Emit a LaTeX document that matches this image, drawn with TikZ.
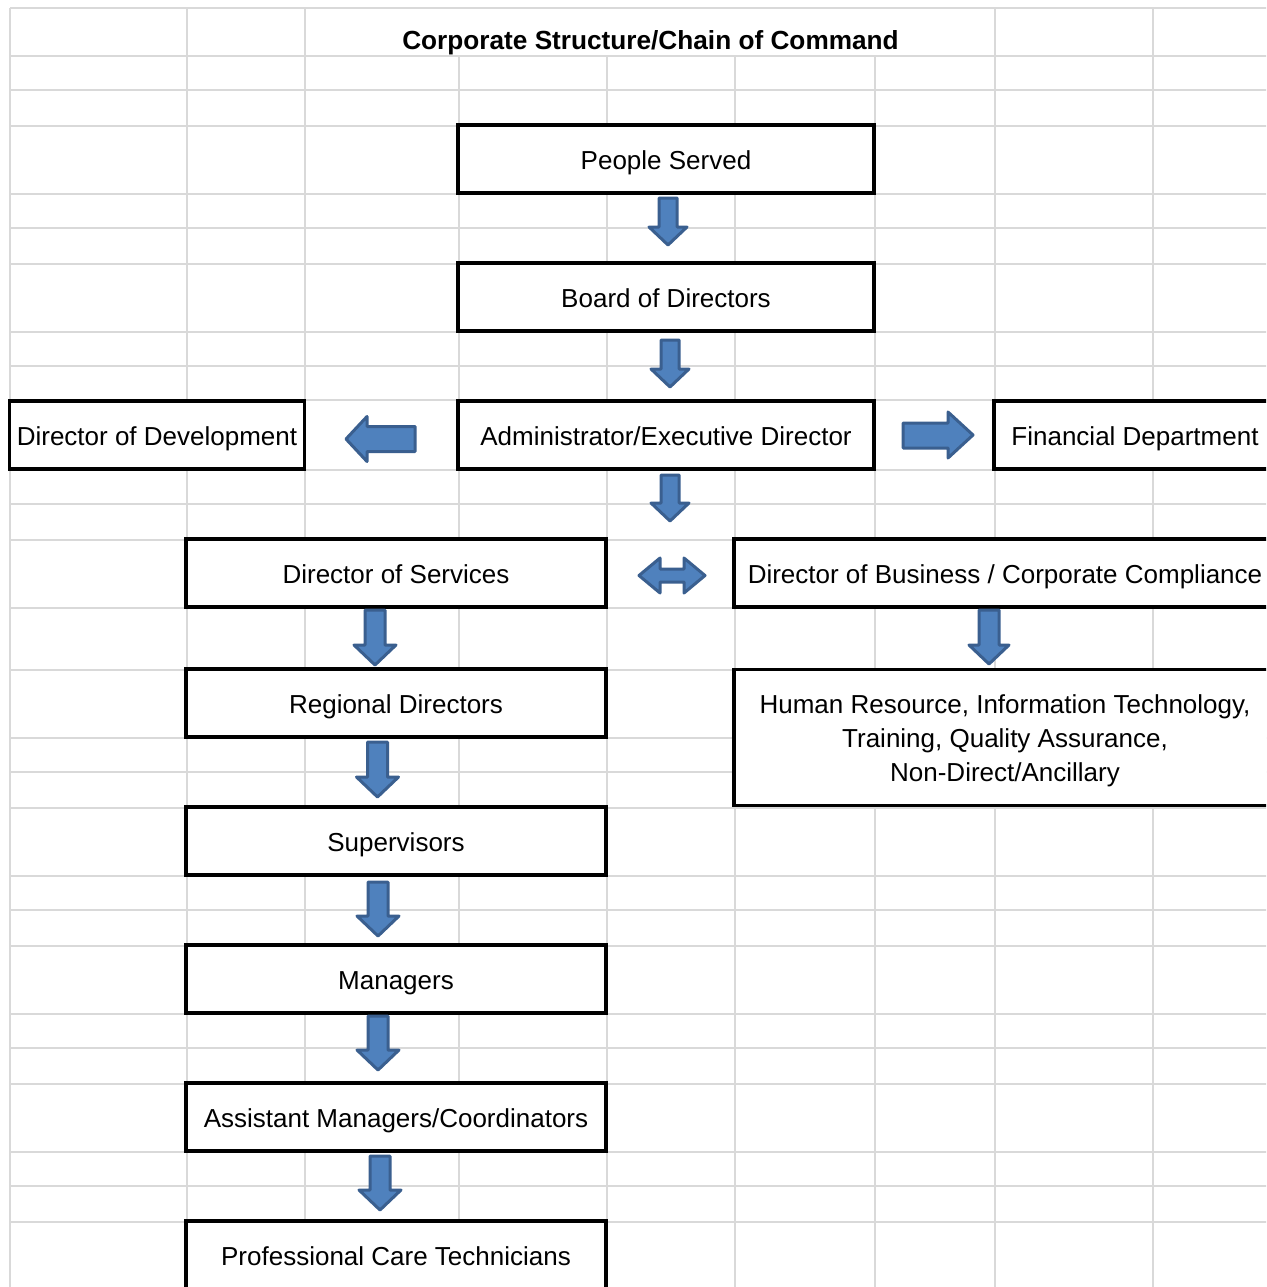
\documentclass[tikz,border=0pt]{standalone}
\usepackage{fontspec}
\setmainfont{Liberation Sans}
\definecolor{gridc}{HTML}{D9D9D9}
\definecolor{arrfill}{HTML}{4F81BD}
\definecolor{arrline}{HTML}{3A5F8F}
\tikzset{
  gridline/.style={gridc, line width=2},
  orgbox/.style={draw=black, line width=3.5, fill=white, inner sep=0pt, align=center,
    font=\fontsize{26}{34}\selectfont, minimum height=68, text height=25, text depth=5},
  blk/.style={fill=arrfill, draw=arrline, line width=3, line join=round},
}
% down block arrow: x, ytop, ytip, half shaft, half head, head length
\newcommand{\DArr}[6]{\draw[blk] ({#1-#4},#2) -- ({#1+#4},#2) -- ({#1+#4},{#3-#6}) -- ({#1+#5},{#3-#6}) -- (#1,#3) -- ({#1-#5},{#3-#6}) -- ({#1-#4},{#3-#6}) -- cycle;}
\begin{document}
\begin{tikzpicture}[x=1pt,y=-1pt]
\useasboundingbox (0,0) rectangle (1266,1287);
\clip (0,0) rectangle (1266,1287);
\fill[white] (0,0) rectangle (1266,1287);
% spreadsheet grid
\foreach \yy in {8,56,90,126,194,228,264,332,366,400,470,504,540,608,670,738,772,808,876,910,946,1014,1048,1084,1152,1186,1222}
  {\draw[gridline] (10,\yy) -- (1270,\yy);}
\foreach \xx in {10,187,305,995,1153}
  {\draw[gridline] (\xx,8) -- (\xx,1290);}
\foreach \xx in {459,607,735,875}
  {\draw[gridline] (\xx,56) -- (\xx,1290);}
% title
\node[font=\bfseries\fontsize{26.2}{30}\selectfont] (title) at (650.5,42.5) {Corporate Structure/Chain of Command};
% boxes
\node[orgbox, minimum width=416] (ps)  at (666,159) {People Served};
\node[orgbox, minimum width=416] (bod) at (666,297) {Board of Directors};
\node[orgbox, minimum width=416] (adm) at (666,435) {Administrator/Executive Director};
\node[orgbox, minimum width=295] (dev) at (157,435) {Director of Development};
\node[orgbox, minimum width=282] (fin) at (1135,435) {Financial Department};
\node[orgbox, minimum width=420] (svc) at (396,573) {Director of Services};
\node[orgbox, minimum width=542] (bus) at (1005,573) {Director of Business / Corporate Compliance};
\node[orgbox, minimum width=420] (reg) at (396,703) {Regional Directors};
\node[orgbox, minimum width=542, minimum height=136, text height=, text depth=] (hr) at (1005,737.5)
  {\rule{0pt}{25pt}Human Resource, Information Technology,\\Training, Quality Assurance,\\Non-Direct/Ancillary};
\node[orgbox, minimum width=420] (sup)  at (396,841) {Supervisors};
\node[orgbox, minimum width=420] (mgr)  at (396,979) {Managers};
\node[orgbox, minimum width=420] (asst) at (396,1117) {Assistant Managers/Coordinators};
\node[orgbox, minimum width=420] (pct)  at (396,1255) {Professional Care Technicians};
% block arrows
\DArr{668}{198}{245}{9}{19}{18}
\DArr{670}{340}{387}{9}{19}{18}
\DArr{670}{475}{521}{9}{19}{18}
\draw[blk] (415,426.5) -- (367,426.5) -- (367,416.5) -- (346,439) -- (367,461.5) -- (367,451.5) -- (415,451.5) -- cycle;
\draw[blk] (903,423) -- (948,423) -- (948,412) -- (973,435) -- (948,458) -- (948,448) -- (903,448) -- cycle;
\draw[blk] (639,575.5) -- (660,558) -- (660,569) -- (684,569) -- (684,558) -- (705,575.5) -- (684,593) -- (684,582) -- (660,582) -- (660,593) -- cycle;
\DArr{375}{610}{665}{10}{21}{20}
\DArr{989}{610}{664}{10}{20}{19}
\DArr{377.5}{742}{797}{10}{21}{20}
\DArr{378}{882}{936}{10}{21}{20}
\DArr{378}{1016}{1070}{10}{21}{20}
\DArr{380}{1156}{1210}{10}{21}{20}
\end{tikzpicture}
\end{document}
